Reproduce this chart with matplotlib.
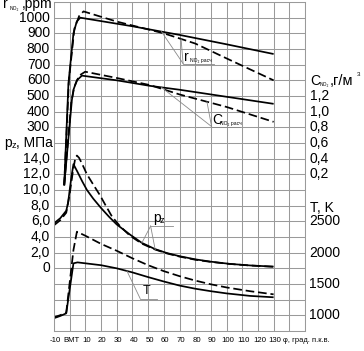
import numpy as np
import matplotlib
matplotlib.use("Agg")
import matplotlib.pyplot as plt

plt.rcParams['font.family'] = ['Liberation Sans', 'DejaVu Sans']

W, H, DPI = 364, 351, 100

# ---------------- data (crank angle in degrees) ----------------
# NO concentration, ppm  (solid = experiment, dashed = calculation)
phi_r_exp = [-3.5, -0.8, 2.4, 4.5, 6.7, 40, 70, 100, 130]
r_exp = [-70, 580, 900, 975, 1000, 945, 890, 830, 768]
phi_r_calc = [-3.5, -0.5, 3.0, 6.0, 8.8, 30, 50, 60, 80, 100, 130]
r_calc = [-70, 600, 930, 1010, 1040, 975, 925, 900, 835, 740, 600]

# NO2 mass concentration, g/m^3
phi_c_exp = [-3.5, 1.4, 2.4, 4.6, 7.8, 30, 51, 70, 100, 130]
c_exp = [0.06, 1.15, 1.28, 1.40, 1.46, 1.40, 1.33, 1.28, 1.19, 1.10]
phi_c_calc = [-3.5, 1.0, 3.0, 6.0, 9.9, 30, 51, 70, 100, 130]
c_calc = [0.06, 1.12, 1.32, 1.46, 1.51, 1.43, 1.34, 1.22, 1.06, 0.87]

# cylinder pressure, MPa
phi_p_exp = [-10, -6, -2.2, -1, 0, 1.2, 2.4, 5, 8, 11, 15, 20, 25, 30, 38.5,
             46, 54.5, 62, 70, 80, 90, 102, 115, 130]
p_exp = [5.75, 6.4, 7.35, 8.4, 10.0, 11.8, 13.3, 12.3, 11.1, 10.0, 8.9, 7.7,
         6.6, 5.6, 4.3, 3.25, 2.45, 1.95, 1.55, 1.15, 0.85, 0.57, 0.37, 0.22]
phi_p_calc = [-10, -6, -2.2, 0, 2, 3.5, 4.6, 6, 8, 11, 15, 19.4, 23, 27, 32,
              38.5, 46, 54.5, 62, 70, 80, 90, 102, 115, 130]
p_calc = [5.5, 6.15, 7.1, 9.5, 12.3, 14.0, 14.4, 14.1, 13.3, 12.0, 10.7, 9.3,
          8.0, 6.6, 5.4, 4.15, 3.15, 2.4, 1.9, 1.5, 1.1, 0.82, 0.56, 0.36, 0.2]

# temperature, K
phi_t_exp = [-10.3, -6, -2.2, 2.4, 5, 10, 20, 30, 40, 50, 60, 70, 80, 90,
             100, 115, 130]
t_exp = [952, 990, 1032, 1830, 1845, 1830, 1800, 1750, 1685, 1610, 1540,
         1475, 1425, 1385, 1350, 1310, 1288]
phi_t_calc = [-10.3, -6, -2.2, 2.4, 4.6, 10, 20, 30, 40, 50, 60, 70, 80, 90,
              100, 115, 130]
t_calc = [965, 1003, 1045, 2043, 2335, 2270, 2140, 2030, 1910, 1800, 1705,
          1625, 1555, 1495, 1445, 1385, 1335]

x_ticks = [-10, 0, 10, 20, 30, 40, 50, 60, 70, 80, 90, 100, 110, 120, 130]
x_tick_labels = ["-10", "ВМТ", "10", "20", "30", "40", "50", "60", "70",
                 "80", "90", "100", "110", "120", "130"]
r_ticks = [1000, 900, 800, 700, 600, 500, 400, 300]
c_ticks = [1.2, 1.0, 0.8, 0.6, 0.4, 0.2]
p_ticks = [14, 12, 10, 8, 6, 4, 2, 0]
t_ticks = [2500, 2000, 1500, 1000]

# ---------------- scale mapping onto the common grid (rows) ----------------
def row_r(v): return 10 + np.asarray(v, float) / 100.0
def row_c(v): return 9 + np.asarray(v, float) / 0.2
def row_p(v): return 4 + np.asarray(v, float) / 2.0
def row_t(v): return 1 + (np.asarray(v, float) - 1000.0) / 250.0

fig = plt.figure(figsize=(W / DPI, H / DPI), dpi=DPI)
X0, X1, Y0, Y1 = 54, 305, 331, 2   # pixel box of grid
ax = fig.add_axes([X0 / W, 1 - Y0 / H, (X1 - X0) / W, (Y0 - Y1) / H])
ax.set_xlim(-10, 150)
ax.set_ylim(0, 21)
ax.set_xticks(np.arange(-10, 151, 10))
ax.set_yticks(np.arange(0, 22, 1))
ax.grid(True, color='#9a9a9a', lw=0.75)
ax.tick_params(length=0, labelbottom=False, labelleft=False)
for s in ax.spines.values():
    s.set_color('#9a9a9a')
    s.set_linewidth(0.75)
ax.set_axisbelow(True)

LW = 1.25
DASH = (5, 2.2)

def curve(phi, rows, dashed):
    ln, = ax.plot(phi, rows, color='black', lw=LW, solid_capstyle='butt',
                  solid_joinstyle='round')
    if dashed:
        ln.set_dashes(DASH)
    return ln

curve(phi_r_exp, row_r(r_exp), False)
curve(phi_r_calc, row_r(r_calc), True)
curve(phi_c_exp, row_c(c_exp), False)
curve(phi_c_calc, row_c(c_calc), True)
curve(phi_p_exp, row_p(p_exp), False)
curve(phi_p_calc, row_p(p_calc), True)
curve(phi_t_exp, row_t(t_exp), False)
curve(phi_t_calc, row_t(t_calc), True)

# ---------------- helpers for pixel placement ----------------
def px2data(px, py):
    return ((px - 69.5) / 1.57, (331 - py) / 15.67)

def ftext(px, py, s, size, ha='left', va='baseline', **kw):
    fig.text(px / W, 1 - py / H, s, fontsize=size, ha=ha, va=va, **kw)

def leader(p_from, phi, rows_fn, vals_phi, vals):
    x1, y1 = px2data(*p_from)
    y2 = float(np.interp(phi, vals_phi, rows_fn(vals)))
    ax.plot([x1, phi], [y1, y2], color='#8a8a8a', lw=0.6, clip_on=False)

def underline(px0, px1, py):
    (a, b), (c, _) = px2data(px0, py), px2data(px1, py)
    ax.plot([a, c], [b, b], color='#8a8a8a', lw=0.6, clip_on=False)

BIG = 10
HEAD = 10
SUB = 3.6

# left scale labels
for v in r_ticks:
    y = Y0 - row_r(v) * 15.67
    ftext(50, y, f"{v}", BIG, ha='right', va='center')
for v in p_ticks:
    y = Y0 - row_p(v) * 15.67
    s = "0" if v == 0 else f"{v:.1f}".replace('.', ',')
    ftext(50, y, s, BIG, ha='right', va='center')
# right scale labels
for v in c_ticks:
    y = Y0 - row_c(v) * 15.67
    ftext(310, y, f"{v:.1f}".replace('.', ','), BIG, ha='left', va='center')
for v in t_ticks:
    y = Y0 - row_t(v) * 15.67
    ftext(309, y, f"{v}", BIG, ha='left', va='center')

# axis titles
ftext(3, 8, "r", HEAD)
ftext(9.5, 10, "NO₂", SUB)
ftext(22, 8, ",ppm", HEAD)
ftext(4, 147, "p", BIG)
ftext(11.5, 148, "z", 6.5)
ftext(16, 147, ", МПа", BIG)
ftext(310, 85, "C", BIG)
ftext(319.5, 86, "NO₂", SUB)
ftext(330, 85, ",г/м", 10.5)
ftext(357, 76, "3", 4.5)
ftext(310, 212, "T, K", BIG)

# x tick labels
for v, s in zip(x_ticks, x_tick_labels):
    px = 69.5 + v * 1.57 + 1.5
    ftext(px, 342, s, 5.6, ha='center')
ftext(283, 342, "φ, град. п.к.в.", 5.4)

# curve annotations
ftext(184, 61, "r", BIG)
ftext(190, 62, "NO₂ расч", SUB)
underline(183, 214, 63.5)
leader((183, 63.5), 58.5, row_r, phi_r_exp, r_exp)
leader((183, 63.5), 71, row_r, phi_r_calc, r_calc)

ftext(212, 124, "C", BIG)
ftext(220.5, 125, "NO₂ расч", SUB)
underline(211.5, 240, 126.5)
leader((211.5, 126.5), 58.5, row_c, phi_c_exp, c_exp)
leader((211.5, 126.5), 87.5, row_c, phi_c_calc, c_calc)

ftext(153, 222, "p", BIG)
ftext(160, 223, "z", 6.5)
underline(150.5, 173, 226)
leader((150.5, 226), 46, row_p, phi_p_exp, p_exp)
leader((150.5, 226), 54.5, row_p, phi_p_calc, p_calc)

ftext(143, 294, "T", 9)
underline(140, 157, 298.5)
leader((140, 298.5), 36.5, row_t, phi_t_exp, t_exp)

fig.savefig("out.png", dpi=DPI)
